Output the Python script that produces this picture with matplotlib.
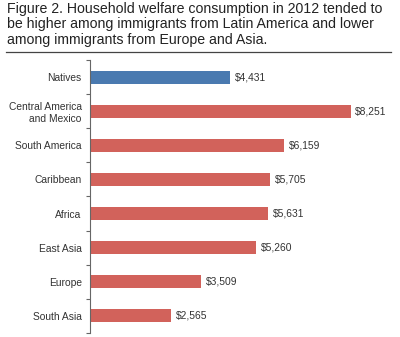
import matplotlib.pyplot as plt
import numpy as np
from matplotlib.lines import Line2D

plt.rcParams['font.family'] = ['Liberation Sans', 'DejaVu Sans']

# Household welfare consumption by origin, 2012 (dollars)
groups = ['Natives', 'Central America\nand Mexico', 'South America', 'Caribbean',
          'Africa', 'East Asia', 'Europe', 'South Asia']
consumption = [4431, 8251, 6159, 5705, 5631, 5260, 3509, 2565]
bar_colors = ['#4a7ab0'] + ['#d2625b'] * 7

title = ('Figure 2. Household welfare consumption in 2012 tended to\n'
         'be higher among immigrants from Latin America and lower\n'
         'among immigrants from Europe and Asia.')

fig = plt.figure(figsize=(4.0, 3.37), dpi=100)
fig.text(0.017, 0.995, title, ha='left', va='top', fontsize=10.2,
         color='#222222', linespacing=1.16)
fig.add_artist(Line2D([0.015, 0.978], [0.846, 0.846], color='#444444',
                      linewidth=0.9, transform=fig.transFigure))

ax = fig.add_axes([0.225, 0.012, 0.75, 0.81])
y = np.arange(len(groups))
ax.barh(y, consumption, height=0.38, color=bar_colors)

for yi, v in zip(y, consumption):
    ax.text(v + 150, yi, f'${v:,}', va='center', ha='left', fontsize=7.4,
            color='#333333')

ax.set_ylim(len(groups) - 0.5, -0.5)
ax.set_xlim(0, 9500)
ax.set_yticks(y)
ax.set_yticklabels(groups, fontsize=7.4, color='#333333', ha='right')
ax.set_yticks(np.arange(-0.5, len(groups)), minor=True)
ax.tick_params(axis='y', which='major', length=0, pad=6)
ax.tick_params(axis='y', which='minor', length=3, width=0.8, color='#666666',
               direction='out')
ax.set_xticks([])
for side in ['top', 'right', 'bottom']:
    ax.spines[side].set_visible(False)
ax.spines['left'].set_color('#666666')
ax.spines['left'].set_linewidth(0.8)

fig.savefig('out.png', dpi=100)
